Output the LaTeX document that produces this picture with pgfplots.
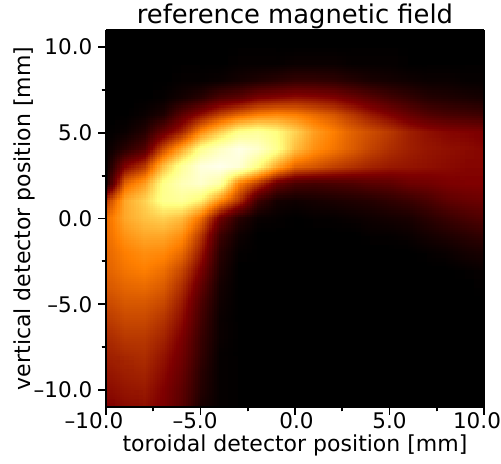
\documentclass[border=0pt]{standalone}
\usepackage{fontspec}
\setmainfont{DejaVu Sans}
\usepackage{pgfplots}
\usepgfplotslibrary{patchplots}
\pgfplotsset{compat=1.18}
\begin{document}
\begin{tikzpicture}
\begin{axis}[
  name=ax,
  view={0}{90},
  width=378bp, height=377bp, scale only axis,
  xmin=-10, xmax=10, ymin=-11, ymax=11,
  colormap={afmhot}{rgb=(0,0,0) rgb=(0.5,0,0) rgb=(1,0.5,0) rgb=(1,1,0.5) rgb=(1,1,1)},
  point meta min=0, point meta max=1,
  xtick={-10,-5,0,5,10},
  xticklabels={–10.0\hspace*{24bp},–5.0\hspace*{11bp},\hspace*{3bp}0.0,5.0,10.0\hspace*{14bp}},
  ytick={-10,-5,0,5,10},
  yticklabels={–10.0,–5.0,0.0,5.0,10.0},
  minor xtick={-7.5,-2.5,2.5,7.5},
  minor ytick={-7.5,-2.5,2.5,7.5},
  ztick=\empty,
  tick align=outside,
  tick pos=left,
  major tick length=7.5bp, minor tick length=4.3bp,
  every tick/.style={black, line width=1.7bp},
  axis line style={black, line width=1.7bp},
  ticklabel style={font=\fontsize{21.5bp}{25bp}\selectfont},
  xticklabel style={anchor=base, inner sep=0pt, yshift=-14bp},
  yticklabel style={anchor=east, inner sep=0pt, xshift=-6bp},
  title={reference magnetic field},
  title style={font=\fontsize{25.8bp}{30bp}\selectfont, at={(axis description cs:0.5,1)}, anchor=base, yshift=1bp},
  xlabel={toroidal detector position [mm]},
  ylabel={vertical detector position [mm]},
  label style={font=\fontsize{22bp}{26bp}\selectfont},
  xlabel style={at={(axis description cs:0.5,0)}, anchor=base, yshift=-44bp},
  ylabel style={at={(axis description cs:-0.201,0.5)}, anchor=base},
]
\addplot3[surf, shader=interp, patch type=bilinear, mesh/cols=21, point meta=z] coordinates {
(-10,-11,0.25) (-9,-11,0.27) (-8,-11,0.28) (-7,-11,0.24) (-6,-11,0.17) (-5,-11,0.05) (-4,-11,0.01) (-3,-11,0) (-2,-11,0) (-1,-11,0) (0,-11,0) (1,-11,0) (2,-11,0) (3,-11,0) (4,-11,0) (5,-11,0) (6,-11,0) (7,-11,0) (8,-11,0) (9,-11,0) (10,-11,0)
(-10,-10,0.27) (-9,-10,0.29) (-8,-10,0.3) (-7,-10,0.25) (-6,-10,0.18) (-5,-10,0.07) (-4,-10,0.01) (-3,-10,0) (-2,-10,0) (-1,-10,0) (0,-10,0) (1,-10,0) (2,-10,0) (3,-10,0) (4,-10,0) (5,-10,0) (6,-10,0) (7,-10,0) (8,-10,0) (9,-10,0) (10,-10,0)
(-10,-9,0.29) (-9,-9,0.31) (-8,-9,0.32) (-7,-9,0.27) (-6,-9,0.2) (-5,-9,0.08) (-4,-9,0.01) (-3,-9,0) (-2,-9,0) (-1,-9,0) (0,-9,0) (1,-9,0) (2,-9,0) (3,-9,0) (4,-9,0) (5,-9,0) (6,-9,0) (7,-9,0) (8,-9,0) (9,-9,0) (10,-9,0)
(-10,-8,0.31) (-9,-8,0.33) (-8,-8,0.34) (-7,-8,0.29) (-6,-8,0.22) (-5,-8,0.1) (-4,-8,0.01) (-3,-8,0) (-2,-8,0) (-1,-8,0) (0,-8,0) (1,-8,0) (2,-8,0) (3,-8,0) (4,-8,0) (5,-8,0) (6,-8,0) (7,-8,0) (8,-8,0) (9,-8,0) (10,-8,0)
(-10,-7,0.33) (-9,-7,0.36) (-8,-7,0.36) (-7,-7,0.32) (-6,-7,0.24) (-5,-7,0.11) (-4,-7,0.02) (-3,-7,0) (-2,-7,0) (-1,-7,0) (0,-7,0) (1,-7,0) (2,-7,0) (3,-7,0) (4,-7,0) (5,-7,0) (6,-7,0) (7,-7,0) (8,-7,0) (9,-7,0) (10,-7,0)
(-10,-6,0.36) (-9,-6,0.39) (-8,-6,0.39) (-7,-6,0.35) (-6,-6,0.27) (-5,-6,0.13) (-4,-6,0.02) (-3,-6,0) (-2,-6,0) (-1,-6,0) (0,-6,0) (1,-6,0) (2,-6,0) (3,-6,0) (4,-6,0) (5,-6,0) (6,-6,0) (7,-6,0) (8,-6,0) (9,-6,0) (10,-6,0)
(-10,-5,0.39) (-9,-5,0.42) (-8,-5,0.42) (-7,-5,0.39) (-6,-5,0.3) (-5,-5,0.15) (-4,-5,0.03) (-3,-5,0) (-2,-5,0) (-1,-5,0) (0,-5,0) (1,-5,0) (2,-5,0) (3,-5,0) (4,-5,0) (5,-5,0) (6,-5,0) (7,-5,0) (8,-5,0) (9,-5,0) (10,-5,0)
(-10,-4,0.42) (-9,-4,0.45) (-8,-4,0.46) (-7,-4,0.43) (-6,-4,0.34) (-5,-4,0.19) (-4,-4,0.04) (-3,-4,0) (-2,-4,0) (-1,-4,0) (0,-4,0) (1,-4,0) (2,-4,0) (3,-4,0) (4,-4,0) (5,-4,0) (6,-4,0) (7,-4,0) (8,-4,0) (9,-4,0) (10,-4,0.01)
(-10,-3,0.44) (-9,-3,0.48) (-8,-3,0.5) (-7,-3,0.47) (-6,-3,0.39) (-5,-3,0.24) (-4,-3,0.06) (-3,-3,0) (-2,-3,0) (-1,-3,0) (0,-3,0) (1,-3,0) (2,-3,0) (3,-3,0) (4,-3,0) (5,-3,0) (6,-3,0) (7,-3,0) (8,-3,0) (9,-3,0.01) (10,-3,0.02)
(-10,-2,0.45) (-9,-2,0.5) (-8,-2,0.53) (-7,-2,0.52) (-6,-2,0.46) (-5,-2,0.3) (-4,-2,0.08) (-3,-2,0.01) (-2,-2,0) (-1,-2,0) (0,-2,0) (1,-2,0) (2,-2,0) (3,-2,0) (4,-2,0) (5,-2,0) (6,-2,0) (7,-2,0.01) (8,-2,0.02) (9,-2,0.04) (10,-2,0.05)
(-10,-1,0.46) (-9,-1,0.54) (-8,-1,0.58) (-7,-1,0.58) (-6,-1,0.53) (-5,-1,0.36) (-4,-1,0.12) (-3,-1,0.03) (-2,-1,0) (-1,-1,0) (0,-1,0) (1,-1,0) (2,-1,0) (3,-1,0) (4,-1,0.01) (5,-1,0.01) (6,-1,0.02) (7,-1,0.04) (8,-1,0.06) (9,-1,0.08) (10,-1,0.1)
(-10,0,0.46) (-9,0,0.58) (-8,0,0.63) (-7,0,0.66) (-6,0,0.62) (-5,0,0.47) (-4,0,0.22) (-3,0,0.08) (-2,0,0.02) (-1,0,0.01) (0,0,0) (1,0,0.01) (2,0,0.01) (3,0,0.02) (4,0,0.03) (5,0,0.04) (6,0,0.05) (7,0,0.08) (8,0,0.11) (9,0,0.14) (10,0,0.16)
(-10,1,0.36) (-9,1,0.58) (-8,1,0.66) (-7,1,0.78) (-6,1,0.8) (-5,1,0.72) (-4,1,0.52) (-3,1,0.35) (-2,1,0.12) (-1,1,0.04) (0,1,0.03) (1,1,0.04) (2,1,0.05) (3,1,0.06) (4,1,0.07) (5,1,0.09) (6,1,0.11) (7,1,0.14) (8,1,0.18) (9,1,0.2) (10,1,0.21)
(-10,2,0.06) (-9,2,0.45) (-8,2,0.56) (-7,2,0.77) (-6,2,0.86) (-5,2,0.9) (-4,2,0.82) (-3,2,0.5) (-2,2,0.36) (-1,2,0.2) (0,2,0.14) (1,2,0.13) (2,2,0.14) (3,2,0.15) (4,2,0.17) (5,2,0.18) (6,2,0.21) (7,2,0.22) (8,2,0.24) (9,2,0.25) (10,2,0.25)
(-10,3,0.02) (-9,3,0.25) (-8,3,0.36) (-7,3,0.62) (-6,3,0.8) (-5,3,0.93) (-4,3,0.96) (-3,3,0.92) (-2,3,0.76) (-1,3,0.58) (0,3,0.45) (1,3,0.42) (2,3,0.38) (3,3,0.35) (4,3,0.32) (5,3,0.3) (6,3,0.29) (7,3,0.28) (8,3,0.27) (9,3,0.26) (10,3,0.26)
(-10,4,0.01) (-9,4,0.08) (-8,4,0.16) (-7,4,0.4) (-6,4,0.58) (-5,4,0.78) (-4,4,0.88) (-3,4,0.95) (-2,4,0.9) (-1,4,0.78) (0,4,0.62) (1,4,0.53) (2,4,0.48) (3,4,0.43) (4,4,0.38) (5,4,0.34) (6,4,0.31) (7,4,0.29) (8,4,0.28) (9,4,0.27) (10,4,0.26)
(-10,5,0) (-9,5,0.02) (-8,5,0.07) (-7,5,0.2) (-6,5,0.32) (-5,5,0.52) (-4,5,0.65) (-3,5,0.77) (-2,5,0.8) (-1,5,0.75) (0,5,0.66) (1,5,0.56) (2,5,0.5) (3,5,0.44) (4,5,0.4) (5,5,0.36) (6,5,0.31) (7,5,0.28) (8,5,0.26) (9,5,0.25) (10,5,0.24)
(-10,6,0) (-9,6,0) (-8,6,0.02) (-7,6,0.06) (-6,6,0.18) (-5,6,0.28) (-4,6,0.38) (-3,6,0.45) (-2,6,0.5) (-1,6,0.52) (0,6,0.5) (1,6,0.46) (2,6,0.42) (3,6,0.36) (4,6,0.3) (5,6,0.25) (6,6,0.2) (7,6,0.16) (8,6,0.14) (9,6,0.13) (10,6,0.12)
(-10,7,0) (-9,7,0) (-8,7,0) (-7,7,0.01) (-6,7,0.04) (-5,7,0.08) (-4,7,0.15) (-3,7,0.18) (-2,7,0.24) (-1,7,0.26) (0,7,0.28) (1,7,0.27) (2,7,0.25) (3,7,0.21) (4,7,0.17) (5,7,0.13) (6,7,0.1) (7,7,0.07) (8,7,0.06) (9,7,0.05) (10,7,0.04)
(-10,8,0) (-9,8,0) (-8,8,0) (-7,8,0) (-6,8,0.01) (-5,8,0.01) (-4,8,0.02) (-3,8,0.04) (-2,8,0.06) (-1,8,0.08) (0,8,0.1) (1,8,0.1) (2,8,0.09) (3,8,0.07) (4,8,0.05) (5,8,0.04) (6,8,0.03) (7,8,0.02) (8,8,0.02) (9,8,0.01) (10,8,0.01)
(-10,9,0) (-9,9,0) (-8,9,0) (-7,9,0) (-6,9,0) (-5,9,0) (-4,9,0) (-3,9,0.01) (-2,9,0.01) (-1,9,0.01) (0,9,0.02) (1,9,0.02) (2,9,0.02) (3,9,0.01) (4,9,0.01) (5,9,0.01) (6,9,0) (7,9,0) (8,9,0) (9,9,0) (10,9,0)
(-10,10,0) (-9,10,0) (-8,10,0) (-7,10,0) (-6,10,0) (-5,10,0) (-4,10,0) (-3,10,0) (-2,10,0) (-1,10,0) (0,10,0) (1,10,0) (2,10,0) (3,10,0) (4,10,0) (5,10,0) (6,10,0) (7,10,0) (8,10,0) (9,10,0) (10,10,0)
(-10,11,0) (-9,11,0) (-8,11,0) (-7,11,0) (-6,11,0) (-5,11,0) (-4,11,0) (-3,11,0) (-2,11,0) (-1,11,0) (0,11,0) (1,11,0) (2,11,0) (3,11,0) (4,11,0) (5,11,0) (6,11,0) (7,11,0) (8,11,0) (9,11,0) (10,11,0)
};
\end{axis}
\pgfresetboundingbox
\path[use as bounding box] ([xshift=-106bp,yshift=-57bp]ax.south west) rectangle ([xshift=17bp,yshift=30bp]ax.north east);
\end{tikzpicture}
\end{document}
